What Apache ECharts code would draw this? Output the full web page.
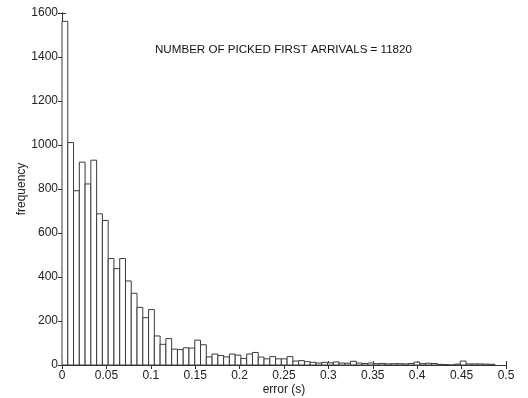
<!DOCTYPE html>
<html>
<head>
<meta charset="utf-8">
<script src="https://cdn.jsdelivr.net/npm/echarts@6/dist/echarts.min.js"></script>
<style>
html,body{margin:0;padding:0;background:#fff;}
#chart{width:528px;height:398px;}
</style>
</head>
<body>
<div id="chart"></div>
<script>
// Histogram of pick errors (bin width in seconds)
const binWidth = 0.0065;
const counts = [
  1562, 1011, 792, 922, 823, 931, 687, 657, 484, 438,
  484, 382, 326, 262, 215, 252, 132, 94, 120, 72,
  70, 78, 77, 113, 92, 37, 50, 43, 37, 50,
  45, 30, 50, 57, 36, 28, 38, 28, 28, 38,
  18, 20, 15, 12, 9, 12, 10, 14, 9, 8,
  17, 9, 7, 9, 6, 7, 5, 6, 6, 5,
  7, 13, 6, 8, 7, 3, 2, 0, 4, 18,
  5, 5, 5, 4, 3
];
const xTicks = [0, 0.05, 0.1, 0.15, 0.2, 0.25, 0.3, 0.35, 0.4, 0.45, 0.5];
const yTicks = [0, 200, 400, 600, 800, 1000, 1200, 1400, 1600];
const annotation = 'NUMBER OF PICKED FIRST ARRIVALS = 11820';
const xName = 'error (s)';
const yName = 'frequency';

const bins = counts.map((c, i) => [i * binWidth, (i + 1) * binWidth, c]);

const fontFamily = 'Liberation Sans, Arial, Helvetica, sans-serif';
const axisColor = '#333';
const labelColor = '#222';

const chart = echarts.init(document.getElementById('chart'), null, {renderer: 'canvas'});

const xCommon = {
  type: 'value', min: 0, max: 0.5, interval: 0.05,
  axisLine: {show: true, lineStyle: {color: axisColor, width: 1}},
  axisTick: {show: true, inside: true, length: 4, lineStyle: {color: axisColor}},
  splitLine: {show: false}
};
const yCommon = {
  type: 'value', min: 0, max: 1600, interval: 200,
  axisLine: {show: true, lineStyle: {color: axisColor, width: 1}},
  axisTick: {show: true, inside: true, length: 4, lineStyle: {color: axisColor}},
  splitLine: {show: false}
};

chart.setOption({
  animation: false,
  backgroundColor: '#fff',
  grid: {left: 62, right: 22, top: 13, bottom: 33, containLabel: false, outerBoundsMode: 'none'},
  xAxis: [
    Object.assign({}, xCommon, {
      position: 'bottom',
      name: xName, nameLocation: 'middle', nameGap: 19, nameMoveOverlap: false,
      nameTextStyle: {color: labelColor, fontSize: 12, fontFamily},
      axisLabel: {
        show: true, color: labelColor, fontSize: 12, fontFamily, margin: 5,
        formatter: v => (xTicks.includes(Math.round(v * 100) / 100) ? String(Math.round(v * 100) / 100) : '')
      }
    }),
    Object.assign({}, xCommon, {position: 'top', axisLabel: {show: false}})
  ],
  yAxis: [
    Object.assign({}, yCommon, {
      position: 'left',
      name: yName, nameLocation: 'middle', nameGap: 34, nameRotate: 90, nameMoveOverlap: false,
      nameTextStyle: {color: labelColor, fontSize: 12, fontFamily},
      axisLabel: {
        show: true, color: labelColor, fontSize: 12, fontFamily, margin: 4,
        formatter: v => (yTicks.includes(v) ? String(v) : '')
      }
    }),
    Object.assign({}, yCommon, {position: 'right', axisLabel: {show: false}})
  ],
  graphic: [{
    type: 'text',
    left: 155, top: 44,
    style: {text: annotation, fill: '#111', fontSize: 11.6, fontFamily}
  }],
  series: [{
    type: 'custom',
    xAxisIndex: 0, yAxisIndex: 0,
    data: bins,
    encode: {x: [0, 1], y: 2},
    renderItem: function (params, api) {
      const p0 = api.coord([api.value(0), api.value(2)]);
      const p1 = api.coord([api.value(1), 0]);
      return {
        type: 'rect',
        shape: {x: p0[0], y: p0[1], width: p1[0] - p0[0], height: p1[1] - p0[1]},
        style: {fill: '#fff', stroke: '#3a3a3a', lineWidth: 1}
      };
    }
  }]
});
</script>
</body>
</html>
